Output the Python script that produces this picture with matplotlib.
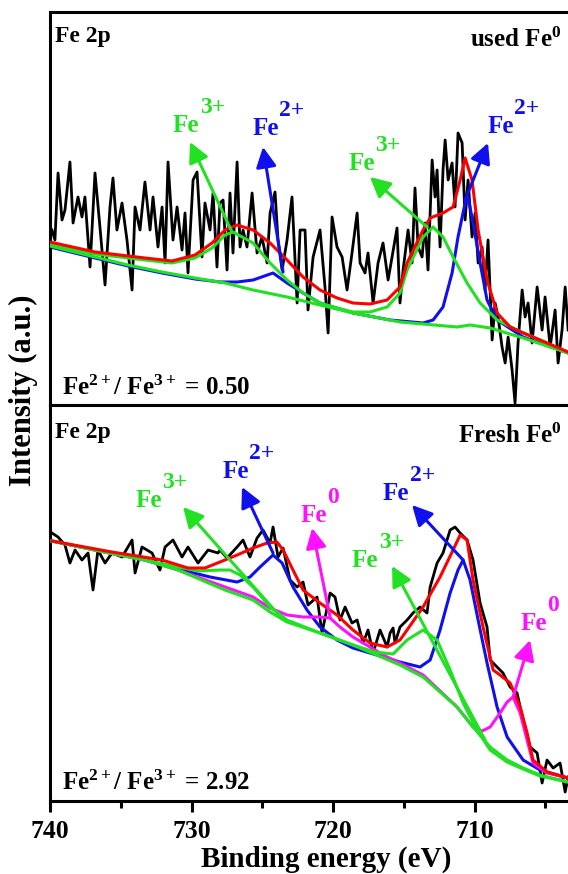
import numpy as np
import matplotlib
matplotlib.use("Agg")
import matplotlib.pyplot as plt
from matplotlib.ticker import MultipleLocator

plt.rcParams["font.family"] = "Liberation Serif"
plt.rcParams["font.weight"] = "bold"
plt.rcParams["mathtext.fontset"] = "custom"
plt.rcParams["mathtext.rm"] = "Liberation Serif:bold"
plt.rcParams["mathtext.it"] = "Liberation Serif:bold"
plt.rcParams["mathtext.bf"] = "Liberation Serif:bold"

RED = "#ff0000"
GREEN = "#22e022"
BLUE = "#1010ee"
MAGENTA = "#ff10ff"

# ---------------- used Fe0 (top panel) ----------------
used_raw_E = [
    739.86, 739.65, 739.43, 739.15, 738.94, 738.59, 738.37, 738.02, 737.74, 737.53,
    737.17, 736.82, 736.47, 736.11, 735.76, 735.55, 735.27, 734.91, 734.56, 734.20,
    733.99, 733.64, 733.29, 732.93, 732.72, 732.37, 732.08, 731.87, 731.66, 731.31,
    731.02, 730.67, 730.46, 730.25, 729.89, 729.61, 729.26, 729.05, 728.69, 728.48,
    728.20, 727.99, 727.77, 727.49, 727.28, 727.07, 726.78, 726.57, 726.36, 726.08,
    725.72, 725.37, 725.02, 724.66, 724.45, 724.10, 723.89, 723.60, 723.25, 722.90,
    722.54, 722.33, 721.98, 721.77, 721.41, 720.92, 720.57, 720.35, 720.07, 719.72,
    719.36, 719.01, 718.66, 718.30, 718.09, 717.74, 717.53, 717.17, 716.82, 716.47,
    716.11, 715.83, 715.48, 715.27, 715.05, 714.70, 714.42, 714.21, 713.99, 713.71,
    713.50, 713.29, 713.00, 712.79, 712.65, 712.44, 712.23, 712.08, 711.87, 711.59,
    711.38, 711.17, 710.88, 710.67, 710.46, 710.18, 709.96, 709.75, 709.47, 709.26,
    709.05, 708.76, 708.55, 708.34, 708.06, 707.84, 707.63, 707.35, 707.14, 706.93,
    706.64, 706.43, 706.22, 705.94, 705.58, 705.23, 705.02, 704.66, 704.31, 704.10,
    703.82, 703.60, 703.39]
used_raw_I = [
    175, 165, 232, 185, 195, 243, 182, 208, 188, 208,
    138, 232, 178, 120, 198, 227, 175, 202, 165, 115,
    198, 175, 223, 175, 208, 158, 198, 142, 243, 165,
    198, 155, 192, 132, 225, 233, 148, 202, 175, 212,
    138, 202, 205, 135, 212, 152, 243, 158, 175, 158,
    212, 152, 168, 142, 192, 213, 165, 135, 165, 208,
    102, 175, 175, 95, 148, 175, 118, 72, 188, 158,
    148, 115, 152, 192, 142, 132, 152, 102, 142, 162,
    125, 148, 177, 102, 135, 175, 142, 217, 158, 148,
    182, 135, 245, 208, 235, 158, 235, 265, 225, 242,
    198, 272, 262, 185, 225, 168, 192, 142, 158, 115,
    165, 65, 102, 88, 58, 42, 68, 35, 2, 62,
    115, 88, 102, 62, 118, 75, 108, 58, 95, 42,
    75, 118, 75]

used_bg_E = [740.0, 736.82, 734.49, 732.08, 729.75, 727.63, 725.65, 723.25, 720.92,
             718.59, 715.27, 713.64, 711.24, 710.32, 708.90, 706.57, 703.39]
used_bg_I = [159, 148, 140, 133, 127, 122, 115, 108, 100, 92, 83, 81, 78, 80, 77, 67, 52]

used_fe2_E = [740.0, 736.82, 734.49, 732.08, 729.75, 727.99, 726.78, 725.65, 724.24,
              723.25, 722.12, 720.92, 718.59, 715.97, 713.64, 712.93, 712.23, 711.59,
              711.17, 710.67, 710.46, 710.11, 709.61, 709.12, 708.41, 706.57, 703.39]
used_fe2_I = [158, 147, 139, 132, 126, 123, 123, 125, 132, 122, 112, 102, 92, 85, 82,
              85, 98, 132, 168, 202, 208, 182, 142, 105, 85, 68, 52]

used_fe3_E = [740.0, 736.82, 733.29, 731.38, 729.75, 728.55, 727.63, 727.07, 725.65,
              724.45, 723.25, 722.12, 720.92, 719.72, 718.59, 717.39, 716.18, 715.27,
              714.77, 713.64, 712.93, 712.23, 711.52, 710.53, 709.61, 708.41, 707.00,
              705.37, 703.39]
used_fe3_I = [161, 151, 145, 142, 147, 157, 170, 173, 162, 142, 125, 112, 102, 97, 93,
              93, 98, 112, 135, 168, 178, 168, 148, 122, 102, 85, 75, 65, 52]

used_env_E = [740.0, 736.82, 733.29, 731.38, 729.75, 728.55, 727.63, 726.78, 725.65,
              724.45, 723.25, 722.12, 720.92, 719.72, 718.59, 717.39, 716.18, 715.27,
              714.77, 713.64, 713.14, 712.23, 711.52, 711.02, 710.67, 710.18, 709.75,
              709.12, 708.41, 707.49, 706.57, 705.37, 703.39]
used_env_I = [163, 153, 147, 144, 150, 162, 175, 180, 175, 162, 145, 128, 115, 107, 102,
              101, 105, 118, 142, 175, 187, 192, 198, 225, 247, 225, 175, 125, 92, 78,
              72, 65, 53]

# ---------------- fresh Fe0 (bottom panel) ----------------
fresh_raw_E = [
    739.86, 739.43, 738.94, 738.59, 738.23, 737.74, 737.31, 736.96, 736.61, 736.11,
    735.62, 734.91, 734.20, 733.99, 733.50, 732.79, 732.23, 731.87, 731.31, 730.67,
    730.25, 729.54, 728.83, 728.13, 727.99, 727.49, 726.78, 726.36, 725.87, 725.37,
    724.95, 724.45, 724.24, 723.89, 723.53, 723.04, 722.54, 722.12, 721.77, 721.13,
    720.78, 720.21, 719.86, 719.51, 719.15, 718.66, 718.30, 717.88, 717.53, 717.17,
    716.68, 716.18, 715.97, 715.76, 715.62, 715.27, 714.77, 714.35, 713.85, 713.36,
    713.14, 712.65, 712.23, 711.73, 711.38, 711.02, 710.53, 710.11, 709.61, 709.12,
    708.90, 708.41, 707.99, 707.49, 707.00, 706.57, 706.08, 705.58, 705.23, 704.88,
    704.45, 703.96, 703.60, 703.39]
fresh_raw_I = [
    268, 264, 256, 238, 251, 241, 248, 211, 251, 238,
    248, 244, 261, 228, 254, 248, 231, 254, 261, 244,
    254, 238, 251, 248, 251, 243, 254, 261, 244, 263,
    271, 258, 274, 244, 253, 221, 214, 219, 196, 204,
    168, 208, 204, 181, 194, 178, 181, 158, 171, 148,
    171, 154, 168, 173, 158, 174, 181, 188, 194, 188,
    214, 238, 248, 271, 274, 268, 261, 241, 198, 174,
    141, 134, 128, 114, 108, 81, 54, 48, 18, 41,
    33, 38, 9, 24]

fresh_bg_E = [739.86, 736.82, 733.29, 730.95, 727.63, 725.65, 724.45, 723.25, 720.92,
              718.59, 715.27, 713.64, 711.24, 710.11, 708.90, 707.70, 706.57, 705.37,
              703.39]
fresh_bg_I = [260, 251, 241, 231, 211, 201, 189, 179, 168, 156, 136, 124, 94, 74, 54,
              41, 33, 26, 19]

fresh_fe2_E = [739.86, 736.82, 733.29, 730.95, 728.69, 726.78, 725.87, 725.16, 724.24,
               723.60, 722.83, 721.84, 720.92, 719.72, 718.59, 717.39, 715.27, 713.85,
               713.14, 712.44, 711.73, 711.17, 710.81, 710.32, 709.75, 709.12, 708.41,
               707.70, 706.57, 705.37, 703.39]
fresh_fe2_I = [260, 251, 241, 232, 224, 219, 224, 234, 246, 238, 214, 191, 174, 161,
               153, 148, 139, 134, 141, 171, 208, 231, 241, 221, 181, 138, 94, 64, 41,
               31, 23]

fresh_fe3_E = [739.86, 736.82, 733.29, 730.95, 729.54, 727.99, 727.28, 726.57, 725.65,
               724.45, 723.25, 720.92, 718.59, 717.03, 715.76, 714.77, 713.64, 712.65,
               711.73, 710.81, 709.82, 708.90, 707.70, 706.57, 705.37, 703.39]
fresh_fe3_I = [260, 251, 241, 234, 230, 231, 231, 226, 214, 194, 181, 168, 156, 149,
               147, 161, 171, 161, 131, 98, 71, 51, 39, 32, 25, 19]

fresh_fe0_E = [739.86, 736.82, 733.29, 730.95, 727.63, 725.65, 724.45, 723.25, 722.12,
               720.92, 720.21, 719.51, 718.59, 717.39, 716.18, 715.27, 713.64, 711.24,
               710.11, 709.47, 708.90, 708.20, 707.70, 707.28, 706.78, 706.29, 705.87,
               704.88, 703.39]
fresh_fe0_I = [260, 251, 241, 231, 214, 204, 193, 186, 184, 184, 183, 174, 164, 154,
               144, 138, 126, 94, 74, 70, 74, 88, 99, 104, 88, 61, 38, 28, 23]

fresh_env_E = [739.86, 735.62, 732.08, 730.25, 729.05, 727.99, 726.78, 725.65, 724.66,
               723.96, 723.53, 722.83, 722.12, 720.92, 719.72, 718.59, 717.39, 716.18,
               715.27, 714.77, 713.64, 712.44, 711.52, 711.02, 710.53, 710.11, 709.40,
               708.69, 708.20, 707.49, 706.78, 706.29, 705.87, 704.88, 703.39]
fresh_env_I = [260, 249, 241, 233, 233, 239, 246, 253, 258, 259, 251, 231, 211, 198,
               186, 171, 158, 154, 161, 171, 194, 224, 251, 266, 261, 221, 174, 131,
               126, 118, 94, 68, 41, 29, 23]

ratio_used = "0.50"
ratio_fresh = "2.92"
RATIO_LABEL = r"Fe$^{\mathregular{2+}}$/ Fe$^{\mathregular{3+}}$ = "


def ion_label(ax, x, y, sup, color):
    t = ax.text(x, y, "Fe", color=color, fontsize=18, ha="left", va="baseline", zorder=10)
    ax.annotate(sup, xy=(1, 1), xycoords=t, xytext=(0.5, -3),
                textcoords="offset points", color=color, fontsize=17,
                ha="left", va="bottom", zorder=10)


def pointer(ax, tail, tip, color):
    ax.annotate("", xy=tip, xytext=tail, zorder=9,
                arrowprops=dict(arrowstyle="-|>,head_length=0.55,head_width=0.28",
                                color=color, lw=2.2, mutation_scale=22,
                                shrinkA=0, shrinkB=0))


fig = plt.figure(figsize=(5.68, 8.74), dpi=100)
ax_top = fig.add_axes([0.088, 0.5366, 0.912, 0.4497])
ax_bot = fig.add_axes([0.088, 0.0835, 0.912, 0.4531], sharex=ax_top)

for ax in (ax_top, ax_bot):
    for side in ("left", "top", "bottom"):
        ax.spines[side].set_linewidth(2.2)
    ax.spines["right"].set_visible(False)
    ax.set_yticks([])

ax_bot.set_xlim(740, 703.4)
ax_top.set_ylim(0, 393)
ax_bot.set_ylim(0, 396)

ax_bot.xaxis.set_major_locator(MultipleLocator(10))
ax_bot.xaxis.set_minor_locator(MultipleLocator(5))
ax_bot.tick_params(axis="x", which="major", direction="out", length=8, width=2.2,
                   labelsize=18.5, pad=6)
ax_bot.tick_params(axis="x", which="minor", direction="out", length=5, width=2.2)
ax_top.tick_params(axis="x", which="both", bottom=False, labelbottom=False)

# top panel
ax_top.plot(used_raw_E, used_raw_I, color="black", lw=2.0, zorder=1)
ax_top.plot(used_fe2_E, used_fe2_I, color=BLUE, lw=2.2, zorder=2)
ax_top.plot(used_bg_E, used_bg_I, color=GREEN, lw=2.2, zorder=3)
ax_top.plot(used_fe3_E, used_fe3_I, color=GREEN, lw=2.2, zorder=4)
ax_top.plot(used_env_E, used_env_I, color=RED, lw=2.2, zorder=5)

pointer(ax_top, (727.14, 173), (730.11, 263), GREEN)
pointer(ax_top, (723.53, 133), (724.95, 258), BLUE)
pointer(ax_top, (713.36, 178), (717.39, 228), GREEN)
pointer(ax_top, (710.67, 205), (709.05, 262), BLUE)
ion_label(ax_top, 731.31, 273, "3+", GREEN)
ion_label(ax_top, 725.72, 270, "2+", BLUE)
ion_label(ax_top, 718.94, 235, "3+", GREEN)
ion_label(ax_top, 709.12, 272, "2+", BLUE)

ax_top.text(0.01, 0.924, "Fe 2p", transform=ax_top.transAxes, fontsize=17,
            ha="left", va="baseline")
ax_top.text(0.988, 0.911, r"used Fe$^{0}$", transform=ax_top.transAxes, fontsize=18,
            ha="right", va="baseline")
ax_top.text(0.023, 0.025, RATIO_LABEL + ratio_used,
            transform=ax_top.transAxes, fontsize=18, ha="left", va="baseline")

# bottom panel
ax_bot.plot(fresh_raw_E, fresh_raw_I, color="black", lw=2.0, zorder=1)
ax_bot.plot(fresh_fe2_E, fresh_fe2_I, color=BLUE, lw=2.2, zorder=2)
ax_bot.plot(fresh_fe0_E, fresh_fe0_I, color=MAGENTA, lw=2.2, zorder=3)
ax_bot.plot(fresh_fe3_E, fresh_fe3_I, color=GREEN, lw=2.2, zorder=4)
ax_bot.plot(fresh_bg_E, fresh_bg_I, color=GREEN, lw=2.2, zorder=4)
ax_bot.plot(fresh_env_E, fresh_env_I, color=RED, lw=2.2, zorder=5)

pointer(ax_bot, (723.89, 187), (730.60, 294), GREEN)
pointer(ax_bot, (724.24, 248), (726.43, 314), BLUE)
pointer(ax_bot, (720.21, 184), (721.48, 273), MAGENTA)
pointer(ax_bot, (710.81, 241), (714.42, 296), BLUE)
pointer(ax_bot, (709.26, 61), (715.83, 235), GREEN)
pointer(ax_bot, (707.28, 104), (706.08, 161), MAGENTA)
ion_label(ax_bot, 733.99, 294, "3+", GREEN)
ion_label(ax_bot, 727.84, 323, "2+", BLUE)
ion_label(ax_bot, 722.33, 279, "0", MAGENTA)
ion_label(ax_bot, 716.47, 301, "2+", BLUE)
ion_label(ax_bot, 718.66, 234, "3+", GREEN)
ion_label(ax_bot, 706.78, 171, "0", MAGENTA)

ax_bot.text(0.01, 0.917, "Fe 2p", transform=ax_bot.transAxes, fontsize=17,
            ha="left", va="baseline")
ax_bot.text(0.988, 0.904, r"Fresh Fe$^{0}$", transform=ax_bot.transAxes, fontsize=18,
            ha="right", va="baseline")
ax_bot.text(0.023, 0.028, RATIO_LABEL + ratio_fresh,
            transform=ax_bot.transAxes, fontsize=18, ha="left", va="baseline")

fig.text(0.042, 0.554, "Intensity (a.u.)", rotation=90, fontsize=22,
         ha="center", va="center")
fig.text(0.574, 0.008, "Binding energy (eV)", fontsize=21, ha="center", va="baseline")

fig.savefig("out.png", dpi=100)
